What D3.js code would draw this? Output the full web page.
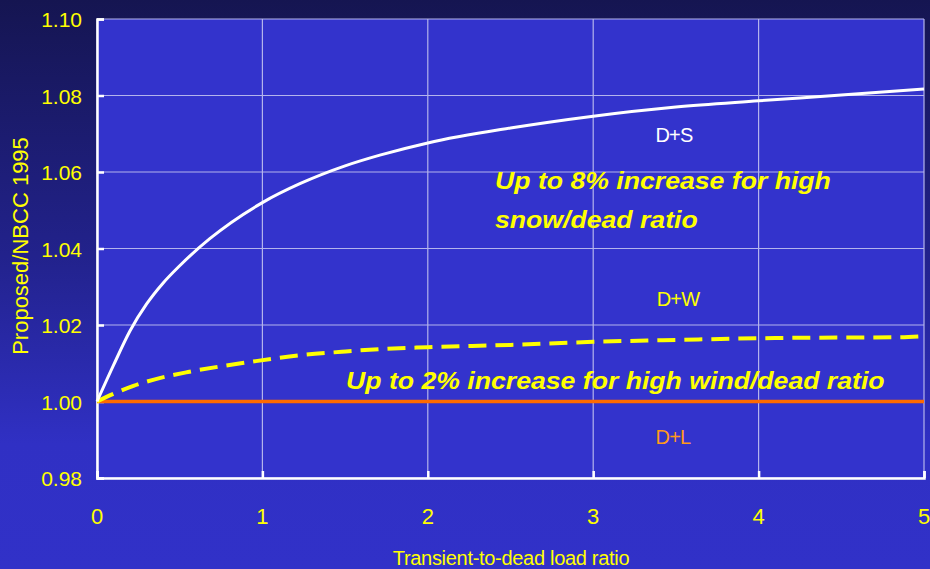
<!DOCTYPE html>
<html>
<head>
<meta charset="utf-8">
<script src="https://cdn.jsdelivr.net/npm/d3@7"></script>
<style>
  html, body { margin: 0; padding: 0; background: #161654; }
  svg { display: block; font-family: "Liberation Sans", Arial, sans-serif; }
</style>
</head>
<body>
<svg id="chart" width="930" height="569"></svg>
<script>
// Load ratio (transient / dead) sampled along the x axis
const ratioSnow = [0, 0.1, 0.2, 0.3, 0.4, 0.5, 0.68, 1.0, 1.23, 1.5, 1.71, 2.0, 2.5, 3.0, 3.5, 4.0, 4.5, 5.0];
const snowValues = [1.000, 1.0095, 1.0185, 1.0255, 1.031, 1.0355, 1.0425, 1.052, 1.057, 1.0616, 1.0644, 1.0676, 1.0715, 1.0746, 1.077, 1.0786, 1.0801, 1.0817];

const ratioWind = [0, 0.1, 0.22, 0.35, 0.55, 0.75, 0.92, 1.08, 1.25, 1.48, 1.71, 2.0, 2.5, 3.0, 3.5, 4.1, 4.85, 5.0];
const windValues = [1.000, 1.002, 1.0041, 1.0058, 1.0077, 1.0092, 1.0103, 1.0113, 1.0122, 1.013, 1.0137, 1.0142, 1.0148, 1.0156, 1.0161, 1.0166, 1.0168, 1.0171];

const ratioLive = [0, 5];
const liveValues = [1.0, 1.0];

const xTicks = [0, 1, 2, 3, 4, 5];
const yTicks = [0.98, 1.00, 1.02, 1.04, 1.06, 1.08, 1.10];

const svg = d3.select("#chart");
const W = 930, H = 569;
const plot = { left: 97, right: 924, top: 19, bottom: 478 };

const x = d3.scaleLinear().domain([0, 5]).range([plot.left, plot.right]);
const y = d3.scaleLinear().domain([0.98, 1.10]).range([plot.bottom, plot.top]);

// Page background: dark navy fading into blue
const defs = svg.append("defs");
const bg = defs.append("linearGradient").attr("id", "bg")
  .attr("x1", 0).attr("y1", 0).attr("x2", 0).attr("y2", 1);
bg.append("stop").attr("offset", "0%").attr("stop-color", "#151551");
bg.append("stop").attr("offset", "45%").attr("stop-color", "#22228c");
bg.append("stop").attr("offset", "78%").attr("stop-color", "#3030c4");
bg.append("stop").attr("offset", "100%").attr("stop-color", "#3131c8");
svg.append("rect").attr("width", W).attr("height", H).attr("fill", "url(#bg)");

// Plot area
svg.append("rect")
  .attr("x", plot.left).attr("y", plot.top)
  .attr("width", plot.right - plot.left).attr("height", plot.bottom - plot.top)
  .attr("fill", "#3333cc");

// Grid
const grid = svg.append("g").attr("stroke", "#b4b4ec").attr("stroke-width", 1.2);
grid.selectAll("line.h").data(yTicks).join("line")
  .attr("x1", plot.left).attr("x2", plot.right)
  .attr("y1", d => y(d)).attr("y2", d => y(d));
grid.selectAll("line.v").data(xTicks).join("line")
  .attr("y1", plot.top).attr("y2", plot.bottom)
  .attr("x1", d => x(d)).attr("x2", d => x(d));

// Axes (ticks point inward, labels drawn separately)
const yAxis = d3.axisLeft(y).tickValues(yTicks).tickSize(-7).tickFormat("");
const xAxis = d3.axisBottom(x).tickValues(xTicks).tickSize(-7).tickFormat("");
const gy = svg.append("g").attr("transform", `translate(${plot.left},0)`).call(yAxis);
const gx = svg.append("g").attr("transform", `translate(0,${plot.bottom})`).call(xAxis);
[gy, gx].forEach(g => {
  g.select(".domain").attr("stroke", "#ffffff").attr("stroke-width", 2.5);
  g.selectAll(".tick line").attr("stroke", "#ffffff").attr("stroke-width", 2.5);
});

// Tick labels
svg.append("g").selectAll("text").data(yTicks).join("text")
  .attr("x", 82).attr("y", d => y(d) + 8)
  .attr("text-anchor", "end")
  .attr("font-size", 21).attr("fill", "#ffff00")
  .text(d => d.toFixed(2));
svg.append("g").selectAll("text").data(xTicks).join("text")
  .attr("x", d => x(d)).attr("y", 524)
  .attr("text-anchor", "middle")
  .attr("font-size", 22).attr("fill", "#ffff00")
  .text(d => d);

// Axis titles
svg.append("text")
  .attr("x", 511).attr("y", 565)
  .attr("text-anchor", "middle")
  .attr("font-size", 20).attr("letter-spacing", -0.3).attr("fill", "#ffff00")
  .text("Transient-to-dead load ratio");
svg.append("text")
  .attr("transform", "translate(28,246) rotate(-90)")
  .attr("text-anchor", "middle")
  .attr("font-size", 22).attr("fill", "#ffff00")
  .text("Proposed/NBCC 1995");

// Series
const line = d3.line().x(d => x(d[0])).y(d => y(d[1])).curve(d3.curveMonotoneX);

svg.append("path")
  .datum(d3.zip(ratioLive, liveValues))
  .attr("d", line).attr("fill", "none")
  .attr("stroke", "#ff6a00").attr("stroke-width", 3.5);

svg.append("path")
  .datum(d3.zip(ratioWind, windValues))
  .attr("d", line).attr("fill", "none")
  .attr("stroke", "#ffff00").attr("stroke-width", 4)
  .attr("stroke-dasharray", "18,9");

svg.append("path")
  .datum(d3.zip(ratioSnow, snowValues))
  .attr("d", line).attr("fill", "none")
  .attr("stroke", "#ffffff").attr("stroke-width", 3);

// Series labels
const seriesLabels = [
  { text: "D+S", x: 674, y: 142, color: "#ffffff" },
  { text: "D+W", x: 678, y: 306, color: "#ffff00" },
  { text: "D+L", x: 673, y: 444, color: "#ff9a1a" }
];
svg.append("g").selectAll("text").data(seriesLabels).join("text")
  .attr("x", d => d.x).attr("y", d => d.y)
  .attr("text-anchor", "middle")
  .attr("font-size", 20).attr("letter-spacing", -0.8)
  .attr("fill", d => d.color)
  .text(d => d.text);

// Annotations (slightly widened bold italic)
const notes = [
  { text: "Up to 8% increase for high", x: 495, y: 189 },
  { text: "snow/dead ratio", x: 495, y: 228 },
  { text: "Up to 2% increase for high wind/dead ratio", x: 346, y: 389 }
];
svg.append("g").selectAll("text").data(notes).join("text")
  .attr("transform", d => `translate(${d.x},${d.y}) scale(1.11,1)`)
  .attr("font-size", 24).attr("font-weight", "bold").attr("font-style", "italic")
  .attr("fill", "#ffff00")
  .text(d => d.text);
</script>
</body>
</html>
